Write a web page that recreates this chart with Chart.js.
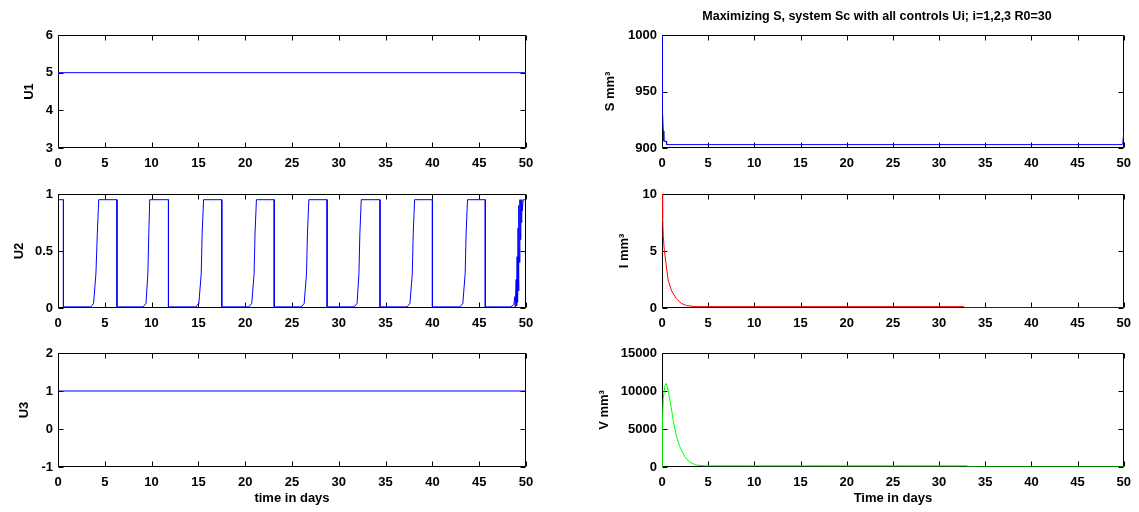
<!DOCTYPE html>
<html lang="en">
<head>
<meta charset="UTF-8">
<title>Maximizing S, system Sc with all controls Ui</title>
<script src="https://cdn.jsdelivr.net/npm/chart.js"></script>
<style>
    body { margin: 0; background: #fff; }
    #wrap { position: relative; width: 1139px; height: 512px; overflow: hidden; }
    canvas { position: absolute; }
</style>
</head>
<body>
<div id="wrap">
    <canvas id="c-u1"></canvas>
    <canvas id="c-s"></canvas>
    <canvas id="c-u2"></canvas>
    <canvas id="c-i"></canvas>
    <canvas id="c-u3"></canvas>
    <canvas id="c-v"></canvas>
</div>
<script>
// ---- data ----
const xTicks = [0, 5, 10, 15, 20, 25, 30, 35, 40, 45, 50];

const u1Ticks = [3, 4, 5, 6];
const u1Time = [0, 50];
const u1Vals = [5, 5];

const u2Ticks = [0, 0.5, 1];
const u2Time = [0, 0.58, 0.58,
    3.5, 3.8, 4.05, 4.2, 4.35, 6.3, 6.3,
    9.1, 9.4, 9.6, 9.7, 9.8, 11.8, 11.8,
    14.75, 15.05, 15.3, 15.4, 15.55, 17.5, 17.5,
    20.4, 20.7, 20.95, 21.05, 21.2, 23.1, 23.1,
    26.0, 26.3, 26.55, 26.65, 26.8, 28.75, 28.75,
    31.65, 31.95, 32.15, 32.25, 32.4, 34.4, 34.4,
    37.3, 37.6, 37.85, 37.95, 38.1, 40.0, 40.0,
    42.95, 43.25, 43.5, 43.6, 43.75, 45.65, 45.65,
    48.4, 48.7, 48.8, 48.85, 48.95, 49.0, 49.05, 49.1, 49.15, 49.2, 49.25,
    49.3, 49.35, 49.4, 49.45, 49.5, 49.55, 49.6, 49.7, 50];
const u2Vals = [0.95, 0.95, 0.01,
    0.01, 0.04, 0.3, 0.65, 0.95, 0.95, 0.01,
    0.01, 0.04, 0.3, 0.65, 0.95, 0.95, 0.01,
    0.01, 0.04, 0.3, 0.65, 0.95, 0.95, 0.01,
    0.01, 0.04, 0.3, 0.65, 0.95, 0.95, 0.01,
    0.01, 0.04, 0.3, 0.65, 0.95, 0.95, 0.01,
    0.01, 0.04, 0.3, 0.65, 0.95, 0.95, 0.01,
    0.01, 0.04, 0.3, 0.65, 0.95, 0.95, 0.01,
    0.01, 0.04, 0.3, 0.65, 0.95, 0.95, 0.01,
    0.01, 0.03, 0.1, 0.01, 0.25, 0.02, 0.45, 0.05, 0.7, 0.15, 0.9,
    0.4, 0.95, 0.6, 0.95, 0.75, 0.95, 0.85, 0.95, 0.95];

const u3Ticks = [-1, 0, 1, 2];
const u3Time = [0, 50];
const u3Vals = [1, 1];

const sTicks = [900, 950, 1000];
const sTime = [0, 0.03, 0.14, 0.2, 0.45, 0.5, 49.88, 50];
const sVals = [1000, 937, 915, 906, 906, 903, 903, 914];

const iTicks = [0, 5, 10];
const iTime = [0, 0.07, 0.14, 0.25, 0.43, 0.68, 1.04, 1.57, 2.1, 2.64, 3.35, 3.6, 32.7, 32.75, 50];
const iVals = [10, 7.9, 6.25, 5.1, 3.9, 2.4, 1.5, 0.8, 0.4, 0.22, 0.14, 0.12, 0.12, 0, 0];

const vTicks = [0, 5000, 10000, 15000];
const vTime = [0, 0.04, 0.14, 0.32, 0.45, 0.57, 0.86, 1.21, 1.57, 1.93, 2.46, 3.0, 3.7, 4.6, 33.1, 33.15, 50];
const vVals = [0, 5750, 9040, 10790, 11000, 10570, 8820, 6190, 3990, 2670, 1360, 620, 260, 160, 150, 0, 0];

// ---- drawing ----
Chart.defaults.font.family = '"Liberation Sans", Arial, sans-serif';
Chart.defaults.font.size = 13;
Chart.defaults.font.weight = 'bold';
Chart.defaults.color = '#000';

function pts(t, v) {
    return t.map((x, k) => ({ x: x, y: v[k] }));
}

// matlab style box with inward ticks on every side, drawn under the curves
const boxTicks = {
    id: 'boxTicks',
    beforeDatasetsDraw(chart) {
        const ctx = chart.ctx;
        const a = chart.chartArea;
        const x = chart.scales.x, y = chart.scales.y;
        const L = Math.round(a.left) + 0.5, R = Math.round(a.right) - 0.5;
        const T = Math.round(a.top) + 0.5, B = Math.round(a.bottom) - 0.5;
        ctx.save();
        ctx.strokeStyle = '#000';
        ctx.lineWidth = 1;
        ctx.beginPath();
        x.ticks.forEach(t => {
            const p = Math.round(x.getPixelForValue(t.value)) + 0.5;
            ctx.moveTo(p, B); ctx.lineTo(p, B - 5);
            ctx.moveTo(p, T); ctx.lineTo(p, T + 5);
        });
        y.ticks.forEach(t => {
            const p = Math.round(y.getPixelForValue(t.value)) + 0.5;
            ctx.moveTo(L, p); ctx.lineTo(L + 5, p);
            ctx.moveTo(R, p); ctx.lineTo(R - 5, p);
        });
        ctx.rect(L, T, R - L, B - T);
        ctx.stroke();
        ctx.restore();
    }
};

function plot(id, box, cfg) {
    const cv = document.getElementById(id);
    cv.width = box.w;
    cv.height = box.h;
    cv.style.left = box.x + 'px';
    cv.style.top = box.y + 'px';
    return new Chart(cv, {
        type: 'line',
        data: {
            datasets: [{
                data: pts(cfg.t, cfg.v),
                borderColor: cfg.color,
                borderWidth: 1,
                pointRadius: 0,
                tension: 0
            }]
        },
        options: {
            responsive: false,
            animation: false,
            events: [],
            layout: { padding: box.pad },
            plugins: {
                legend: { display: false },
                tooltip: { enabled: false },
                title: cfg.title || { display: false }
            },
            scales: {
                x: {
                    type: 'linear',
                    min: 0,
                    max: 50,
                    afterBuildTicks: s => { s.ticks = xTicks.map(v => ({ value: v })); },
                    afterFit: s => { s.height = box.xh; },
                    grid: { display: false, drawTicks: false },
                    border: { display: false },
                    ticks: { padding: 8, maxRotation: 0, autoSkip: false, callback: v => String(v) },
                    title: cfg.xTitle
                        ? { display: true, text: cfg.xTitle, padding: { top: 0, bottom: 6.2 } }
                        : { display: false }
                },
                y: {
                    type: 'linear',
                    min: cfg.ticks[0],
                    max: cfg.ticks[cfg.ticks.length - 1],
                    afterBuildTicks: s => { s.ticks = cfg.ticks.map(v => ({ value: v })); },
                    afterFit: s => { s.width = box.yw; },
                    grid: { display: false, drawTicks: false },
                    border: { display: false },
                    ticks: { padding: 5, autoSkip: false, callback: v => String(v) },
                    title: { display: true, text: cfg.yTitle, padding: { top: cfg.yPad, bottom: 0 } }
                }
            }
        },
        plugins: [boxTicks]
    });
}

// left column
plot('c-u1', { x: 0, y: 0, w: 545, h: 175, xh: 27, yw: 58, pad: { top: 35, right: 19, left: 0, bottom: 0 } },
    { t: u1Time, v: u1Vals, color: '#0000ff', ticks: u1Ticks, yTitle: 'U1', yPad: 21.2 });
plot('c-u2', { x: 0, y: 170, w: 545, h: 175, xh: 37, yw: 58, pad: { top: 24, right: 19, left: 0, bottom: 0 } },
    { t: u2Time, v: u2Vals, color: '#0000ff', ticks: u2Ticks, yTitle: 'U2', yPad: 11.2 });
plot('c-u3', { x: 0, y: 330, w: 545, h: 182, xh: 45, yw: 58, pad: { top: 23, right: 19, left: 0, bottom: 0 } },
    { t: u3Time, v: u3Vals, color: '#0000ff', ticks: u3Ticks, yTitle: 'U3', yPad: 16.2, xTitle: 'time in days' });

// right column
plot('c-s', { x: 570, y: 0, w: 569, h: 175, xh: 27, yw: 37, pad: { top: 0, right: 10, left: 55, bottom: 0 } },
    { t: sTime, v: sVals, color: '#0000ff', ticks: sTicks, yTitle: 'S mm³', yPad: -22.8,
      title: { display: true, text: 'Maximizing S, system Sc with all controls Ui; i=1,2,3 R0=30',
               font: { size: 12.5, weight: 'bold' }, color: '#000', padding: { top: 9.5, bottom: 10.5 } } });
plot('c-i', { x: 570, y: 170, w: 569, h: 175, xh: 37, yw: 92, pad: { top: 24, right: 10, left: 0, bottom: 0 } },
    { t: iTime, v: iVals, color: '#ff0000', ticks: iTicks, yTitle: 'I mm³', yPad: 46.7 });
plot('c-v', { x: 570, y: 330, w: 569, h: 182, xh: 45, yw: 92, pad: { top: 23, right: 10, left: 0, bottom: 0 } },
    { t: vTime, v: vVals, color: '#00ff00', ticks: vTicks, yTitle: 'V mm³', yPad: 26.7, xTitle: 'Time in days' });
</script>
</body>
</html>
